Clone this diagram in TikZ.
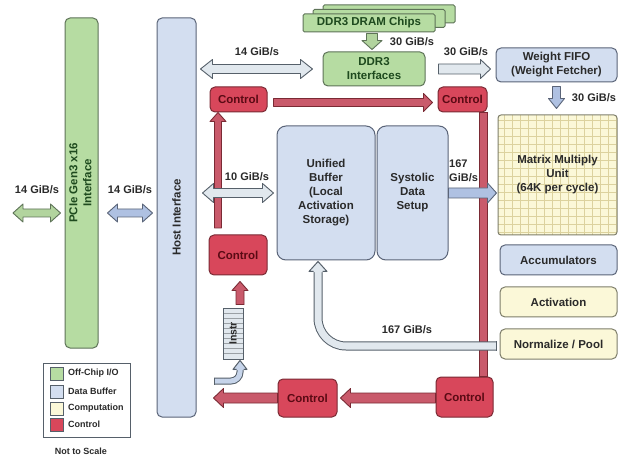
\documentclass[tikz,border=0pt]{standalone}
\usepackage{fontspec}
\setmainfont{Liberation Sans}
\usepackage{graphicx}
\usetikzlibrary{calc}

\definecolor{grnF}{HTML}{B6DCA2}
\definecolor{grnD}{HTML}{5E7358}
\definecolor{grnT}{HTML}{1E4A1E}
\definecolor{grnA}{HTML}{B2D49E}
\definecolor{bluF}{HTML}{D3DEF0}
\definecolor{bluD}{HTML}{5A6478}
\definecolor{bluA}{HTML}{AFC1E2}
\definecolor{yelF}{HTML}{FBF8D8}
\definecolor{yelD}{HTML}{7E7E6A}
\definecolor{gridc}{HTML}{DCD29E}
\definecolor{redF}{HTML}{D8475B}
\definecolor{redD}{HTML}{7A2A34}
\definecolor{redT}{HTML}{5A0A14}
\definecolor{redA}{HTML}{C95A6B}
\definecolor{gryF}{HTML}{E1E8EE}
\definecolor{gryD}{HTML}{56606A}
\definecolor{pipeB}{HTML}{C6D4EA}
\definecolor{txt}{HTML}{2A2A2A}

\newcommand\bx[7]{\node[#2, minimum width={(#5-#3)*1pt}, minimum height={(#6-#4)*1pt}] (#1) at ({(#3+#5)/2},{(#4+#6)/2}) {#7};}

% single block arrow: style, A, B, shaft half, head half, head length
\newcommand\sarr[6]{%
 \coordinate (tmpP) at ($(#3)!#6!(#2)$);
 \draw[#1] ($(#2)!#4!90:(#3)$) -- ($(tmpP)!#4!-90:(#2)$) -- ($(tmpP)!#5!-90:(#2)$) -- (#3) -- ($(tmpP)!#5!90:(#2)$) -- ($(tmpP)!#4!90:(#2)$) -- ($(#2)!#4!-90:(#3)$) -- cycle;}
% double block arrow
\newcommand\darr[6]{%
 \coordinate (tmpP) at ($(#3)!#6!(#2)$);
 \coordinate (tmpQ) at ($(#2)!#6!(#3)$);
 \draw[#1] (#2) -- ($(tmpQ)!#5!90:(#3)$) -- ($(tmpQ)!#4!90:(#3)$) -- ($(tmpP)!#4!-90:(#2)$) -- ($(tmpP)!#5!-90:(#2)$) -- (#3) -- ($(tmpP)!#5!90:(#2)$) -- ($(tmpP)!#4!90:(#2)$) -- ($(tmpQ)!#4!-90:(#3)$) -- ($(tmpQ)!#5!-90:(#3)$) -- cycle;}

\tikzset{
 box/.style={draw, rounded corners=5pt, line width=1pt, inner sep=0pt, align=center,
   font=\fontsize{11.5}{14}\selectfont\bfseries, text=txt},
 offchip/.style={box, fill=grnF, draw=grnD, text=grnT},
 databuf/.style={box, fill=bluF, draw=bluD},
 comp/.style={box, fill=yelF, draw=yelD},
 ctrl/.style={box, fill=redF, draw=redD, text=redT},
 lbl/.style={font=\fontsize{11}{14}\selectfont\bfseries, text=txt, inner sep=0pt, align=center},
 legtxt/.style={font=\fontsize{9}{11}\selectfont\bfseries, text=txt, inner sep=0pt, anchor=west},
 swatch/.style={draw=gryD, line width=0.8pt, inner sep=0pt},
 grayarrow/.style={fill=gryF, draw=gryD, line width=0.9pt, line join=round},
 bluearrow/.style={fill=bluA, draw=bluD, line width=0.9pt, line join=round},
 greenarrow/.style={fill=grnA, draw=grnD, line width=0.9pt, line join=round},
 redarrow/.style={fill=redA, draw=redD, line width=0.9pt, line join=round},
 pipe/.style={draw=gryD, line width=1pt, double=gryF, double distance=7pt},
 pipetwo/.style={draw=gryD, line width=1pt, double=pipeB, double distance=5pt},
}

\begin{document}
\begin{tikzpicture}[x=1pt,y=-1pt]
\useasboundingbox[fill=white] (0,0) rectangle (619,457);

% ---------- boxes ----------
\bx{pcie}{offchip}{65}{18}{98}{348}{\rotatebox{90}{\begin{tabular}{@{}c@{}}PCIe Gen3 x16\\Interface\end{tabular}}}
\bx{host}{databuf}{157}{18}{196}{417}{\rotatebox{90}{Host Interface}}

\bx{dramc}{offchip, rounded corners=1.5pt}{323}{5}{455}{23}{}
\bx{dramb}{offchip, rounded corners=1.5pt}{313}{9.5}{445}{27.5}{}
\bx{dram}{offchip, rounded corners=1.5pt}{303}{14}{435}{32}{DDR3 DRAM Chips}
\bx{ddr}{offchip}{323}{52}{425}{86}{DDR3\\Interfaces}
\bx{wfifo}{databuf}{496}{48}{617}{82}{Weight FIFO\\(Weight Fetcher)}

\begin{scope}
\clip[rounded corners=3pt] (498,115) rectangle (617,235);
\fill[yelF] (498,115) rectangle (617,235);
\draw[gridc, line width=0.7pt] (498,115) grid[step=8pt] (617,235);
\end{scope}
\bx{mmu}{comp, fill=none, rounded corners=3pt}{498}{115}{617}{235}{Matrix Multiply\\Unit\\(64K per cycle)}
\bx{acc}{databuf}{500}{245}{617}{275}{Accumulators}
\bx{act}{comp}{500}{287}{617}{317}{Activation}
\bx{norm}{comp}{500}{329}{617}{359}{Normalize / Pool}

\bx{ub}{databuf, rounded corners=9pt}{277}{126}{375}{260}{Unified\\Buffer\\(Local\\Activation\\Storage)}
\bx{sds}{databuf, rounded corners=9pt}{377}{126}{448}{260}{Systolic\\Data\\Setup}

\bx{c1}{ctrl}{210}{87}{267}{112}{Control}
\bx{c2}{ctrl}{438}{87}{487}{112}{Control}
\bx{c3}{ctrl}{209}{235}{267}{275}{Control}
\bx{c4}{ctrl}{278}{379}{337}{417}{Control}
\bx{c5}{ctrl}{436}{377}{493}{417}{Control}

% instruction buffer
\fill[gryF] (223,308) rectangle (243,359);
\foreach \yy in {313,318,...,354} \draw[gryD!60, line width=0.6pt] (223,\yy) -- (243,\yy);
\bx{instr}{draw=gryD, line width=0.9pt, inner sep=0pt, font=\fontsize{10.5}{12}\selectfont\bfseries, text=txt}{223}{308}{243}{359}{\rotatebox{90}{Instr}}

% ---------- red control paths ----------
\coordinate (rb) at (483.5,0);
\draw[redD, line width=8.5pt] (c2.south -| rb) -- (c5.north -| rb);
\draw[redA, line width=6.5pt] ([yshift=-0.5pt]c2.south -| rb) -- ([yshift=0.5pt]c5.north -| rb);

\coordinate (lrs) at (218,228);
\coordinate (lre) at (c1.south -| lrs);
\sarr{redarrow}{lrs}{lre}{3.5pt}{8pt}{9pt}

\coordinate (c1a) at ($(c1.east)+(6,3)$);
\coordinate (c2a) at ($(c2.west |- c1a)+(-5,0)$);
\sarr{redarrow}{c1a}{c2a}{4pt}{9pt}{9pt}

\coordinate (ins1) at ($(instr.north)+(7,-3)$);
\coordinate (c3b) at ($(c3.south -| ins1)+(0,6)$);
\sarr{redarrow}{ins1}{c3b}{4pt}{8pt}{9pt}

\coordinate (c5a) at ($(c5.west)+(0,1)$);
\coordinate (c4a) at ($(c4.east |- c5a)+(3,0)$);
\sarr{redarrow}{c5a}{c4a}{5pt}{9.5pt}{10pt}

\coordinate (c4b) at (c4.west |- c5a);
\coordinate (lft) at ($(host.east |- c5a)+(17,0)$);
\sarr{redarrow}{c4b}{lft}{5pt}{9.5pt}{10pt}

% ---------- data paths ----------
\coordinate (ext) at (13,213);
\coordinate (e1) at ($(pcie.west |- ext)+(-4,0)$);
\darr{greenarrow}{ext}{e1}{4pt}{9pt}{10pt}

\coordinate (p1) at ($(pcie.east |- ext)+(9,0)$);
\coordinate (h1) at ($(host.west |- ext)+(-4,0)$);
\darr{bluearrow}{p1}{h1}{4pt}{9pt}{10pt}

\coordinate (h2) at ($(host.east |- ddr.west)+(4,0)$);
\coordinate (d1) at ($(ddr.west)+(-10,0)$);
\darr{grayarrow}{h2}{d1}{4.5pt}{9.5pt}{12pt}

\coordinate (dr1) at ($(dram.south)+(3,1)$);
\coordinate (dr2) at ($(ddr.north -| dr1)+(0,-2)$);
\sarr{greenarrow}{dr1}{dr2}{5.5pt}{10pt}{9pt}

\coordinate (d2) at ($(ddr.east)+(13,0)$);
\coordinate (w1) at ($(wfifo.west |- ddr.east)+(-5,0)$);
\sarr{grayarrow}{d2}{w1}{5pt}{9.5pt}{10pt}

\coordinate (w2) at ($(wfifo.south)+(0,4)$);
\coordinate (m1) at ($(wfifo.south |- mmu.north)+(0,-6)$);
\sarr{bluearrow}{w2}{m1}{4pt}{8pt}{10pt}

\coordinate (tenL) at ($(host.east |- sds.west)+(6,0)$);
\coordinate (tenR) at ($(ub.west)+(-3,0)$);
\darr{grayarrow}{tenL}{tenR}{4.5pt}{9.5pt}{11pt}

\coordinate (m2) at ($(mmu.west |- sds.east)+(-1,0)$);
\sarr{bluearrow}{sds.east}{m2}{5pt}{10pt}{9pt}

% return path 167 GiB/s
\coordinate (np) at ($(norm.west)+(-3,2)$);
\coordinate (ubp) at ($(ub.south)+(-8,11)$);
\coordinate (ubt) at ($(ub.south)+(-8,1)$);
\draw[pipe, rounded corners=28pt] (np) -| (ubp);
\draw[gryD, line width=1pt] ($(np)+(0,-4.5)$) -- ($(np)+(0,4.5)$);
\fill[gryF] ($(ubp)+(-9,0.6)$) -- (ubt) -- ($(ubp)+(9,0.6)$) -- cycle;
\draw[gryD, line width=1pt, line join=round] ($(ubp)+(-4.5,0)$) -- ($(ubp)+(-9,0)$) -- (ubt) -- ($(ubp)+(9,0)$) -- ($(ubp)+(4.5,0)$);

% instruction feed
\coordinate (bp0) at (214,381);
\coordinate (ibb) at ($(instr.south)+(7,10)$);
\coordinate (ibt) at ($(instr.south)+(7,1)$);
\draw[pipetwo, rounded corners=9pt] (bp0) -| (ibb);
\draw[gryD, line width=1pt] ($(bp0)+(0,-3.5)$) -- ($(bp0)+(0,3.5)$);
\fill[pipeB] ($(ibb)+(-7,0.6)$) -- (ibt) -- ($(ibb)+(7,0.6)$) -- cycle;
\draw[gryD, line width=1pt, line join=round] ($(ibb)+(-3.5,0)$) -- ($(ibb)+(-7,0)$) -- (ibt) -- ($(ibb)+(7,0)$) -- ($(ibb)+(3.5,0)$);

% ---------- labels ----------
\node[lbl] (l1) at (37,190) {14 GiB/s};
\node[lbl] (l2) at (130,190) {14 GiB/s};
\node[lbl] (l3) at (257,52) {14 GiB/s};
\node[lbl] (l4) at (412,42) {30 GiB/s};
\node[lbl] (l5) at (466,52) {30 GiB/s};
\node[lbl] (l6) at (594,98) {30 GiB/s};
\node[lbl] (l7) at (247,177) {10 GiB/s};
\node[lbl, align=left, anchor=west] (l8) at (449,171) {167\\GiB/s};
\node[lbl] (l9) at (407,330) {167 GiB/s};

% ---------- legend ----------
\bx{leg}{draw=gryD, line width=0.9pt, inner sep=0pt}{43}{363}{130}{437}{}
\bx{s1}{swatch, fill=grnF}{50}{367}{63}{380}{}
\bx{s2}{swatch, fill=bluF}{50}{385}{63}{398}{}
\bx{s3}{swatch, fill=yelF}{50}{402}{63}{415}{}
\bx{s4}{swatch, fill=redF}{50}{418}{63}{431}{}
\node[legtxt] (t1) at (68,373.5) {Off-Chip I/O};
\node[legtxt] (t2) at (68,391.5) {Data Buffer};
\node[legtxt] (t3) at (68,408.5) {Computation};
\node[legtxt] (t4) at (68,424.5) {Control};
\node[legtxt, anchor=center] (nts) at (81,451) {Not to Scale};
\end{tikzpicture}
\end{document}
